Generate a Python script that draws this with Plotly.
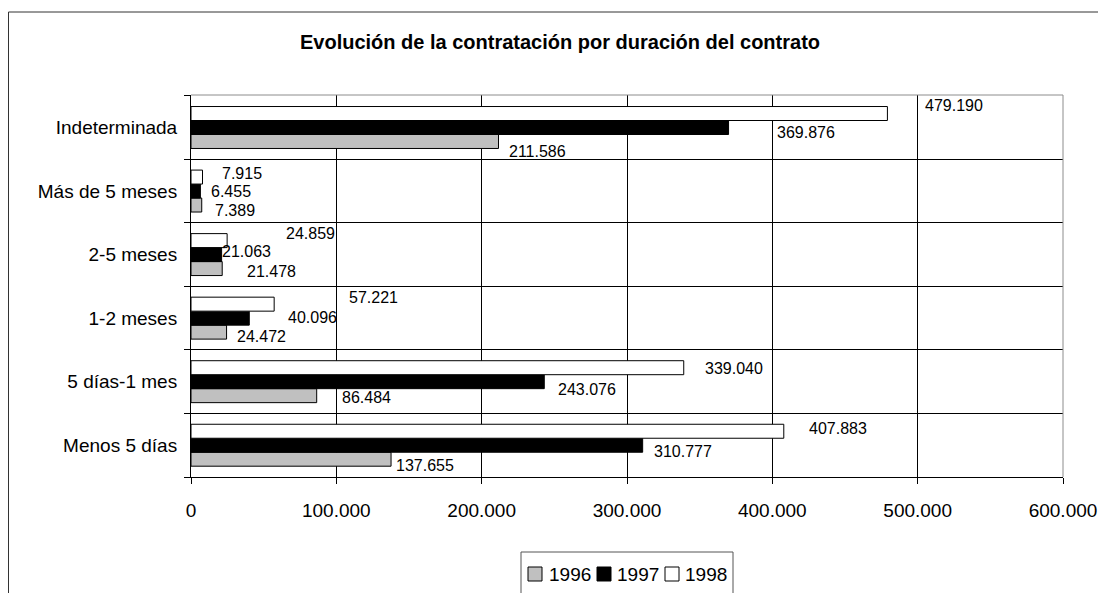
import plotly.graph_objects as go

# categories listed bottom -> top (plotly draws the first category at the bottom)
categories = ["Menos 5 días", "5 días-1 mes", "1-2 meses", "2-5 meses", "Más de 5 meses", "Indeterminada"]
years = ["1996", "1997", "1998"]
v1996 = [137655, 86484, 24472, 21478, 7389, 211586]
v1997 = [310777, 243076, 40096, 21063, 6455, 369876]
v1998 = [407883, 339040, 57221, 24859, 7915, 479190]
x_ticks = [0, 100000, 200000, 300000, 400000, 500000, 600000]

# styling
bar_colors = {"1996": "#C0C0C0", "1997": "#000000", "1998": "#FFFFFF"}
# label nudges in px (x right of bar end, y up from category centre), as placed in the original
label_shift = {
    "1996": ([3, 23, 8, 23, 11, 8], [-20, -16, -18, -17, -19, -24]),
    "1997": ([9, 12, 37, -2, 9, 46], [-6, -8, 1, 3, 0, -5]),
    "1998": ([23, 19, 73, 57, 17, 36], [17, 13, 21, 21, 18, 22]),
}
FONT = "Liberation Sans, Arial, sans-serif"

# page body has an 8px margin, so the figure is sized to the remaining window
W, H = 1098, 585
L, R, T, B = 183, 43, 87, 116
PW, PH = W - L - R, H - T - B


def px(x):
    # figure pixel -> paper x
    return (x - L) / PW


def py(y):
    # figure pixel (from top) -> paper y
    return (H - B - y) / PH


def fmt(v):
    return f"{v:,}".replace(",", ".")


series = {"1996": v1996, "1997": v1997, "1998": v1998}

fig = go.Figure()
for yr in years:
    fig.add_trace(go.Bar(
        y=categories, x=series[yr], name=yr, orientation="h",
        marker=dict(color=bar_colors[yr], line=dict(color="black", width=1)),
    ))

annotations = []
for yr in years:
    dxs, dys = label_shift[yr]
    for cat, val, dx, dy in zip(categories, series[yr], dxs, dys):
        annotations.append(dict(
            x=val, y=cat, xref="x", yref="y", text=fmt(val), showarrow=False,
            xanchor="left", yanchor="middle", xshift=dx, yshift=dy,
            font=dict(family=FONT, size=16, color="black"),
        ))

shapes = [
    # grey top and right border of the plot area
    dict(type="line", xref="paper", yref="paper", x0=0, x1=1, y0=1, y1=1,
         line=dict(color="#8c8c8c", width=1), layer="above"),
    dict(type="line", xref="paper", yref="paper", x0=1, x1=1, y0=0, y1=1,
         line=dict(color="#8c8c8c", width=1), layer="above"),
    # chart area frame (runs off the right and bottom of the view)
    dict(type="rect", xref="paper", yref="paper",
         x0=px(0.5), x1=1.2, y0=-0.5, y1=py(4),
         line=dict(color="#333333", width=1), layer="below"),
    # legend box (its lower edge is out of view, as in the original)
    dict(type="rect", xref="paper", yref="paper",
         x0=px(513), x1=px(725), y0=py(600), y1=py(544),
         line=dict(color="#555555", width=1), fillcolor="white", layer="above"),
]

# legend entries: swatch left edge, text left edge (figure px)
legend_pos = [(520, 539), (589, 607), (657, 675)]
for yr, (sx, tx) in zip(years, legend_pos):
    shapes.append(dict(
        type="rect", xref="paper", yref="paper",
        x0=px(sx), x1=px(sx + 14), y0=py(573), y1=py(559),
        line=dict(color="black", width=1), fillcolor=bar_colors[yr], layer="above",
    ))
    annotations.append(dict(
        x=px(tx), y=py(566), xref="paper", yref="paper", text=yr, showarrow=False,
        xanchor="left", yanchor="middle",
        font=dict(family=FONT, size=19, color="black"),
    ))

fig.update_layout(
    width=W,
    height=H,
    autosize=False,
    margin=dict(l=L, r=R, t=T, b=B, autoexpand=False),
    paper_bgcolor="white",
    plot_bgcolor="white",
    separators=",.",
    barmode="group",
    bargap=0.34,
    bargroupgap=0,
    font=dict(family=FONT, color="black"),
    title=dict(
        text="<b>Evolución de la contratación por duración del contrato</b>",
        x=552 / W, xref="container", xanchor="center",
        y=1 - 34 / H, yref="container", yanchor="middle",
        font=dict(family=FONT, size=20, color="black"),
    ),
    xaxis=dict(
        range=[0, 600000], tickvals=x_ticks, tickformat=",d",
        showgrid=True, gridcolor="#000000", gridwidth=1,
        showline=True, linecolor="black", linewidth=1,
        ticks="outside", ticklen=6, tickcolor="black",
        ticklabelstandoff=10, zeroline=False,
        tickfont=dict(family=FONT, size=19, color="black"),
    ),
    yaxis=dict(
        type="category", tickson="boundaries",
        showgrid=True, gridcolor="#000000", gridwidth=1,
        showline=True, linecolor="black", linewidth=1,
        ticks="outside", ticklen=6, tickcolor="black",
        ticklabelstandoff=9,
        tickfont=dict(family=FONT, size=19, color="black"),
    ),
    showlegend=False,
    annotations=annotations,
    shapes=shapes,
)

fig.write_html("out.html")
